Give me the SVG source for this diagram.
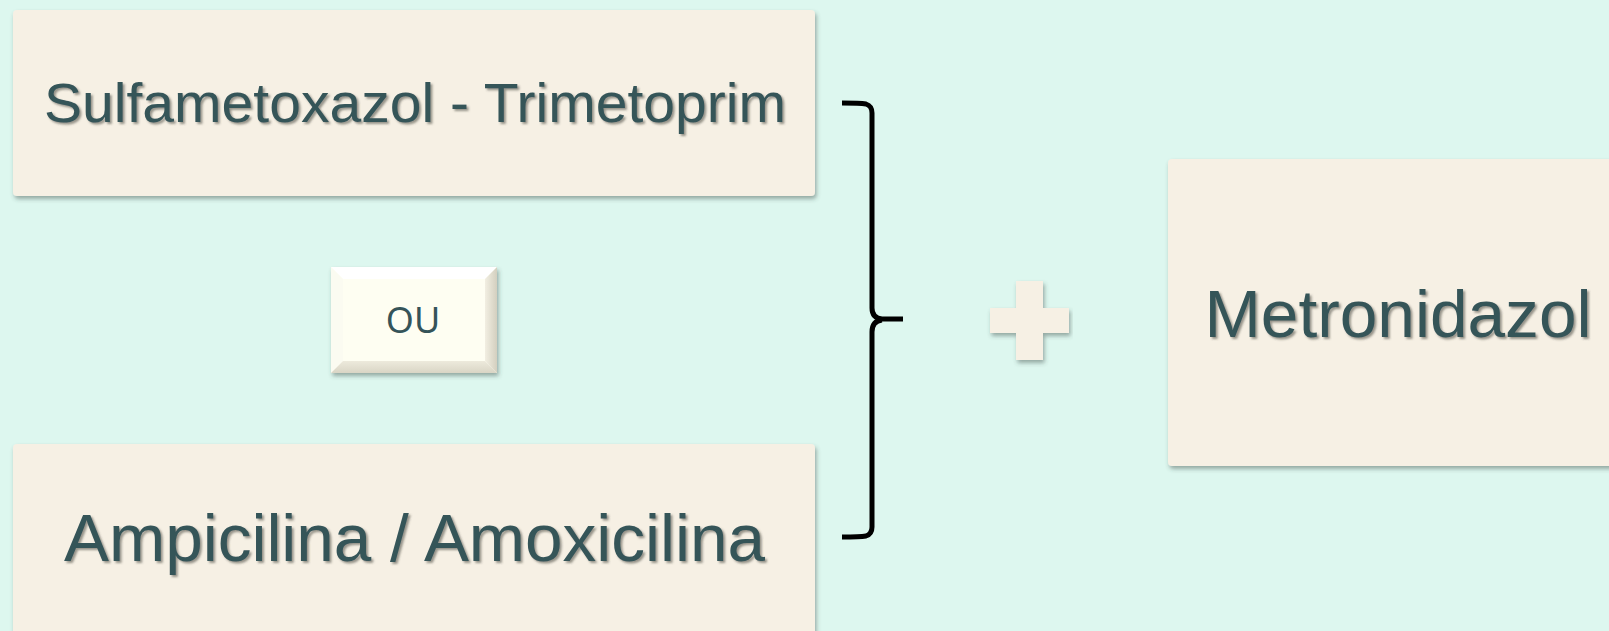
<svg xmlns="http://www.w3.org/2000/svg" width="1609" height="631" viewBox="0 0 1609 631">
<defs>
<filter id="boxShadow" x="-5%" y="-5%" width="110%" height="115%">
<feDropShadow dx="1.5" dy="3" stdDeviation="2" flood-color="#3a4a44" flood-opacity="0.45"/>
</filter>
<filter id="txtShadow" x="-5%" y="-20%" width="110%" height="140%">
<feDropShadow dx="2" dy="2" stdDeviation="1.2" flood-color="#4a4a40" flood-opacity="0.55"/>
</filter>
<linearGradient id="bevB" x1="0" y1="0" x2="0" y2="1"><stop offset="0" stop-color="#EDEADC"/><stop offset="1" stop-color="#D9D5C5"/></linearGradient>
<linearGradient id="bevR" x1="0" y1="0" x2="1" y2="0"><stop offset="0" stop-color="#F2EFE2"/><stop offset="1" stop-color="#D3CFBF"/></linearGradient>
</defs>
<style>
.box{fill:#F6F0E4;}
.lbl{font-family:"Liberation Sans",Arial,sans-serif;fill:#355459;text-anchor:middle;}
.ou{font-family:"Noto Sans","Open Sans",sans-serif;fill:#355459;text-anchor:middle;font-size:36px;}
.brace{fill:none;stroke:#000;stroke-width:5;stroke-linejoin:round;stroke-linecap:butt;}
</style>
<rect width="1609" height="631" fill="#DDF7EF"/>
<g id="node-sulfa">
<rect class="box" x="13" y="10" width="802" height="186" rx="4" filter="url(#boxShadow)"/>
<text class="lbl" x="415" y="122" font-size="55" textLength="742" lengthAdjust="spacingAndGlyphs" filter="url(#txtShadow)">Sulfametoxazol - Trimetoprim</text>
</g>
<g id="node-ou">
<g filter="url(#boxShadow)">
<rect x="331" y="267" width="166" height="106" fill="#FEFEF2"/>
<polygon points="331,267 497,267 485,279 343,279" fill="#FFFFFF"/>
<polygon points="331,267 343,279 343,361 331,373" fill="#FBFBF1"/>
<polygon points="331,373 343,361 485,361 497,373" fill="url(#bevB)"/>
<polygon points="497,267 497,373 485,361 485,279" fill="url(#bevR)"/>
</g>
<text class="ou" x="413" y="333">OU</text>
</g>
<g id="node-ampi">
<rect class="box" x="13" y="444" width="802" height="200" rx="4" filter="url(#boxShadow)"/>
<text class="lbl" x="414.5" y="561" font-size="66" textLength="701" lengthAdjust="spacingAndGlyphs" filter="url(#txtShadow)">Ampicilina / Amoxicilina</text>
</g>
<g id="node-plus">
<path d="M1016,281 H1043 V308 H1069 V333 H1043 V360 H1016 V333 H990 V308 H1016 Z" fill="#F6F0E4" filter="url(#boxShadow)"/>
</g>
<g id="node-metro">
<rect class="box" x="1168" y="159" width="460" height="307" rx="4" filter="url(#boxShadow)"/>
<text class="lbl" x="1398" y="337" font-size="67" textLength="387" lengthAdjust="spacingAndGlyphs" filter="url(#txtShadow)">Metronidazol</text>
</g>
<g id="connectors">
<path class="brace" d="M842,103 Q860,103 866,104 Q872,106 872,113 V308 Q872,318 882,319 H903"/>
<path class="brace" d="M842,537 Q860,537 866,536 Q872,534 872,527 V332 Q872,321 882,320"/>
</g>
</svg>
